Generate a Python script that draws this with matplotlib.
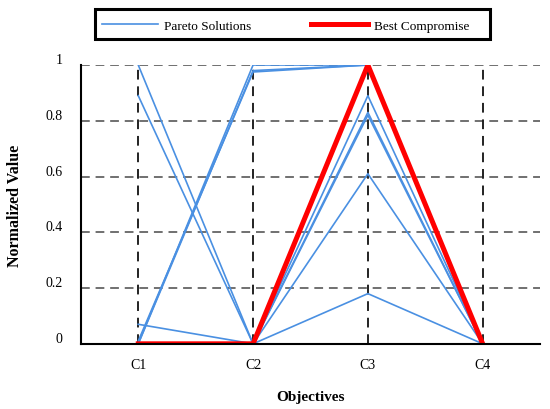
import numpy as np
import matplotlib
matplotlib.use('agg')
from matplotlib import pyplot as plt
from matplotlib.patches import Rectangle
from matplotlib.transforms import ScaledTranslation

plt.rcParams['font.family'] = ['Liberation Serif', 'DejaVu Serif']

objectives = ['C1', 'C2', 'C3', 'C4']
pareto = [
    [1.00, 0.00, 0.89, 0.00],
    [0.89, 0.00, 0.83, 0.00],
    [0.07, 0.00, 0.61, 0.00],
    [0.01, 0.975, 1.00, 0.00],
    [0.00, 1.00, 1.00, 0.00],
    [0.00, 0.98, 1.00, 0.00],
    [0.00, 0.00, 0.18, 0.00],
    [0.00, 0.00, 0.82, 0.00],
    [0.00, 0.00, 0.00, 0.00],
]
best = [0.00, 0.00, 1.00, 0.00]
yticks = [0, 0.2, 0.4, 0.6, 0.8, 1]

x = np.arange(1, len(objectives) + 1)

fig = plt.figure(figsize=(5.5, 4.1), dpi=100)
ax = fig.add_axes([0.147, 0.159, 0.835, 0.68])

for yv in yticks[1:]:
    ax.axhline(yv, color='#707070', lw=1.4, ls=(0, (4.5, 3)), zorder=1)
for xv in x:
    ax.plot([xv, xv], [0, 1], color='#222222', lw=1.4, ls=(0, (5, 3.5)), zorder=1)

for i, row in enumerate(pareto):
    ax.plot(x, row, color='#4a90e2', lw=1.2, zorder=2,
            label='Pareto Solutions' if i == 0 else None)
ax.plot(x, best, color='#ff0000', lw=3.6, zorder=3, label='Best Compromise')

ax.set_xlim(0.5, 4.5)
ax.set_ylim(0, 1)
ax.set_xticks(x)
ax.set_xticklabels(objectives)
ax.set_yticks(yticks)
ax.set_yticklabels(['0', '0.2', '0.4', '0.6', '0.8', '1'])
ax.tick_params(length=0, labelsize=10)
ax.tick_params(axis='y', pad=13)
ax.tick_params(axis='x', pad=10)
# y labels sit a little above their gridlines
shift = ScaledTranslation(0, 5 / 72, fig.dpi_scale_trans)
for lbl in ax.get_yticklabels():
    lbl.set_transform(lbl.get_transform() + shift)
for s in ['top', 'right']:
    ax.spines[s].set_visible(False)
for s in ['left', 'bottom']:
    ax.spines[s].set_linewidth(1.5)
    ax.spines[s].set_zorder(4)

ax.set_xlabel('Objectives', fontsize=11, fontweight='bold', labelpad=14)
ax.set_ylabel('Normalized Value', fontsize=11.5, fontweight='bold', labelpad=16)

# legend box spanning most of the top
fig.patches.append(Rectangle((0.1727, 0.9024), 0.7182, 0.0732, transform=fig.transFigure,
                             fill=False, edgecolor='black', lw=2.2))
leg = fig.legend(loc='center left', bbox_to_anchor=(0.175, 0.935),
                 ncol=2, fontsize=9.5, handlelength=4.3, handletextpad=0.4,
                 columnspacing=4.6, frameon=False, borderaxespad=0)

fig.savefig('out.png', dpi=100)
